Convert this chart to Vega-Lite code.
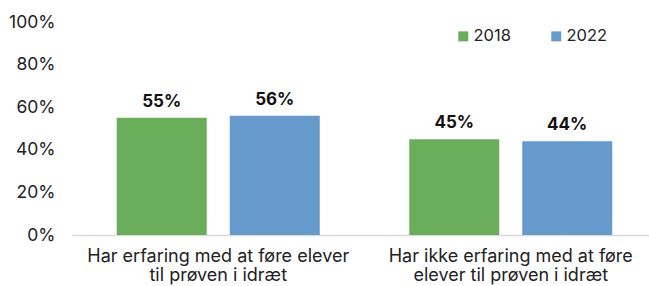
{
  "$schema": "https://vega.github.io/schema/vega-lite/v6.json",
  "autosize": "none",
  "width": 577,
  "height": 213,
  "padding": {"left": 72, "top": 22, "right": 0, "bottom": 51},
  "background": "white",
  "config": {
    "view": {"stroke": null},
    "font": "Inter"
  },
  "data": {
    "values": [
      {"kategori": "Har erfaring med at føre elever|til prøven i idræt", "år": "2018", "andel": 0.55},
      {"kategori": "Har erfaring med at føre elever|til prøven i idræt", "år": "2022", "andel": 0.56},
      {"kategori": "Har ikke erfaring med at føre|elever til prøven i idræt", "år": "2018", "andel": 0.45},
      {"kategori": "Har ikke erfaring med at føre|elever til prøven i idræt", "år": "2022", "andel": 0.44}
    ]
  },
  "encoding": {
    "x": {
      "field": "kategori",
      "type": "nominal",
      "sort": null,
      "scale": {"paddingInner": 0, "paddingOuter": 0, "range": [0, 585]},
      "axis": {
        "title": null,
        "labelAngle": 0,
        "labelExpr": "split(datum.label, '|')",
        "labelFontSize": 18,
        "labelColor": "#222222",
        "labelPadding": 12,
        "labelLineHeight": 19,
        "labelLimit": 400,
        "ticks": false,
        "domainColor": "#d9d9d9",
        "domainWidth": 1.5
      }
    },
    "xOffset": {
      "field": "år",
      "type": "nominal",
      "scale": {"paddingInner": 0.2035, "paddingOuter": 0.396}
    },
    "y": {
      "field": "andel",
      "type": "quantitative",
      "scale": {"domain": [0, 1]},
      "axis": {
        "title": null,
        "format": ".0%",
        "values": [0, 0.2, 0.4, 0.6, 0.8, 1],
        "grid": false,
        "domain": false,
        "ticks": false,
        "labelFontSize": 17.5,
        "labelColor": "#222222",
        "labelPadding": 17
      }
    }
  },
  "layer": [
    {
      "mark": {"type": "bar"},
      "encoding": {
        "color": {
          "field": "år",
          "type": "nominal",
          "scale": {"domain": ["2018", "2022"], "range": ["#6aad5a", "#6699cc"]},
          "legend": {
            "title": null,
            "orient": "none",
            "legendX": 383,
            "legendY": 6,
            "direction": "horizontal",
            "symbolType": "square",
            "symbolSize": 100,
            "symbolStrokeWidth": 0,
            "labelFontSize": 16.5,
            "labelColor": "#222222",
            "labelOffset": 2,
            "columnPadding": 37
          }
        }
      }
    },
    {
      "mark": {"type": "text", "dy": -16, "fontSize": 17, "fontWeight": "bold", "color": "#111111"},
      "encoding": {
        "text": {"field": "andel", "type": "quantitative", "format": ".0%"}
      }
    }
  ]
}
